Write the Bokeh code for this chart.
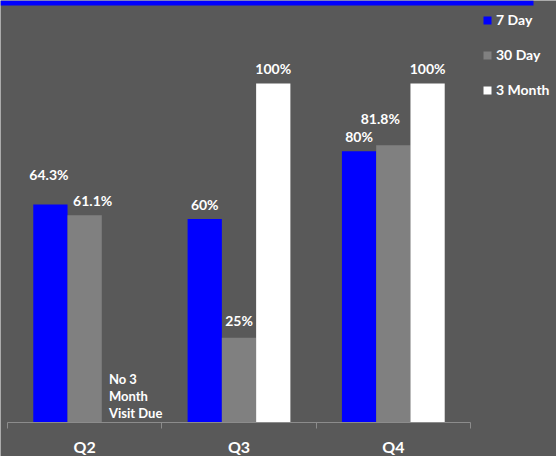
import math
from bokeh.plotting import figure
from bokeh.models import (Range1d, ColumnDataSource, LinearAxis, FixedTicker, Legend, LegendItem,
                          BoxAnnotation, CustomJSTickFormatter, Grid)
from bokeh.transform import dodge
from bokeh.core.properties import value
from bokeh.embed import file_html
from bokeh.resources import INLINE

# ---------------- data ----------------
quarters = ["Q2", "Q3", "Q4"]
series_names = ["7 Day", "30 Day", "3 Month"]
seven_day = [64.3, 60.0, 80.0]
thirty_day = [61.1, 25.0, 81.8]
three_month = [float("nan"), 100.0, 100.0]
note_quarter = ["Q2"]
note_text = ["No 3\nMonth\nVisit Due"]

# ---------------- style ----------------
BG = "#595959"
AXIS_C = "#8c8c8c"
FONT = "Lato"
COLORS = ["#0000ff", "#808080", "#ffffff"]
BAR_W = 0.222
OFFSETS = [-BAR_W, 0.0, BAR_W]
# label nudges in screen pixels (dx right, dy above bar top)
NUDGE_DX = [[-1.5, 0, 0], [8, 0, -13], [0, 0, 0]]
NUDGE_DY = [[30, 15, 15], [15, 17, 27], [15, 15, 15]]

n = len(quarters)
centres = [i + 0.5 for i in range(n)]   # slot i spans i..i+1
SLOT_PX = 154.33                        # pixel width of one quarter slot
PCT_PX = 3.39                           # pixels per percentage point
LEFT_PX, W, H, BASE_PX = 7, 556, 456, 422

p = figure(width=W, height=H,
           x_range=Range1d(-LEFT_PX / SLOT_PX, (W - LEFT_PX) / SLOT_PX),
           y_range=Range1d(-(H - BASE_PX) / PCT_PX, BASE_PX / PCT_PX),
           output_backend="svg", toolbar_location=None,
           x_axis_location=None, y_axis_location=None,
           background_fill_color=BG, border_fill_color=BG,
           min_border_left=0, min_border_right=0, min_border_top=0, min_border_bottom=0)
p.outline_line_color = None
p.outline_line_alpha = 0
p.center = [c for c in p.center if not isinstance(c, Grid)]

x_axis = LinearAxis(ticker=FixedTicker(ticks=centres, minor_ticks=list(range(n + 1))),
                    formatter=CustomJSTickFormatter(args=dict(names=quarters),
                                                    code="return names[Math.floor(tick)]"),
                    bounds=(0, n), fixed_location=0,
                    axis_line_color=AXIS_C, axis_line_width=1,
                    major_tick_line_color=None, major_tick_out=0, major_tick_in=0,
                    minor_tick_line_color=AXIS_C, minor_tick_out=6, minor_tick_in=0,
                    major_label_standoff=8,
                    major_label_text_color="white", major_label_text_font=FONT,
                    major_label_text_font_style="bold", major_label_text_font_size="16px")
p.add_layout(x_axis, "below")

series_values = [seven_day, thirty_day, three_month]
items = []
for i, (name, vals) in enumerate(zip(series_names, series_values)):
    keep = [k for k, v in enumerate(vals) if not math.isnan(v)]
    src = ColumnDataSource(dict(pos=[centres[k] for k in keep],
                                val=[vals[k] for k in keep],
                                label=[f"{vals[k]:g}%" for k in keep],
                                dx=[NUDGE_DX[i][k] for k in keep],
                                dy=[-NUDGE_DY[i][k] for k in keep]))
    r = p.vbar(x=dodge("pos", OFFSETS[i]), top="val", bottom=0, width=BAR_W,
               source=src, fill_color=COLORS[i], line_color=None)
    p.text(x=dodge("pos", OFFSETS[i]), y="val", text="label",
           x_offset="dx", y_offset="dy", source=src,
           text_color="white", text_font=value(FONT), text_font_style="bold",
           text_font_size="14px", text_align="center", text_baseline="middle")
    items.append(LegendItem(label=name, renderers=[r]))

note_pos = [centres[quarters.index(q)] for q in note_quarter]
note_src = ColumnDataSource(dict(pos=note_pos, y=[0] * len(note_pos), text=note_text))
p.text(x=dodge("pos", OFFSETS[2]), y="y", text="text", source=note_src,
       x_offset=-10, y_offset=-1, text_color="white", text_font=value(FONT),
       text_font_style="bold", text_font_size="13px", text_align="left",
       text_baseline="bottom", text_line_height=1.08)

legend = Legend(items=items, location=(482, 358), orientation="vertical",
                glyph_width=10, glyph_height=10, label_height=10, label_width=10,
                label_standoff=4, spacing=18, padding=0, margin=0,
                border_line_color=None, background_fill_alpha=0,
                label_text_color="white", label_text_font=FONT,
                label_text_font_style="bold", label_text_font_size="14px")
p.add_layout(legend)

top_band = BoxAnnotation(left=0, right=533, top=0, bottom=5,
                         left_units="canvas", right_units="canvas",
                         top_units="canvas", bottom_units="canvas",
                         fill_color="#0000ff", fill_alpha=1,
                         line_color=None, line_alpha=0, level="overlay")
p.add_layout(top_band)

open("out.html", "w").write(file_html(p, INLINE))
